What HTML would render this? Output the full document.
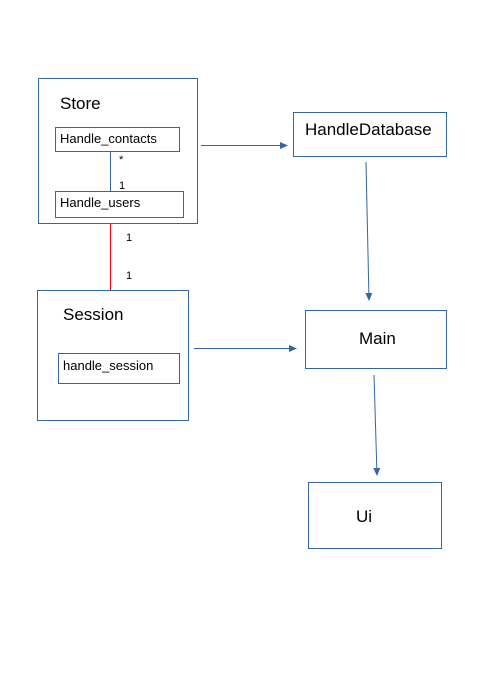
<!DOCTYPE html>
<html><head><style>
body{margin:0;background:#fff;}
svg text{font-family:"Liberation Sans",sans-serif;fill:#000;}
</style></head><body>
<svg width="480" height="679" xmlns="http://www.w3.org/2000/svg">
<defs><marker id="a" markerWidth="8" markerHeight="8" refX="7" refY="4" orient="auto" markerUnits="userSpaceOnUse"><path d="M0,0.5 L8,4 L0,7.5 z" fill="#3465a4"/></marker></defs>
<g fill="none" stroke="#3465a4" stroke-width="1">
<rect x="38.5" y="78.5" width="159" height="145"/>
<rect x="55.5" y="127.5" width="124" height="24"/>
<rect x="55.5" y="191.5" width="128" height="26"/>
<rect x="37.5" y="290.5" width="151" height="130"/>
<rect x="58.5" y="353.5" width="121" height="30"/>
<rect x="293.5" y="112.5" width="153" height="44"/>
<rect x="305.5" y="310.5" width="141" height="58"/>
<rect x="308.5" y="482.5" width="133" height="66"/>
<line x1="110.5" y1="151" x2="110.5" y2="191"/>
<line x1="201" y1="145.5" x2="287" y2="145.5" marker-end="url(#a)"/>
<line x1="366" y1="162" x2="369" y2="300" marker-end="url(#a)"/>
<line x1="194" y1="348.5" x2="296" y2="348.5" marker-end="url(#a)"/>
<line x1="374" y1="375" x2="377" y2="475" marker-end="url(#a)"/>
</g>
<line x1="110.5" y1="224" x2="110.5" y2="290" stroke="#ff0000" stroke-width="1"/>
<text x="60" y="109" font-size="17">Store</text>
<text x="60" y="143" font-size="13">Handle_contacts</text>
<text x="60" y="207" font-size="13">Handle_users</text>
<text x="119" y="163" font-size="11">*</text>
<text x="119" y="189" font-size="11">1</text>
<text x="126" y="241" font-size="11">1</text>
<text x="126" y="279" font-size="11">1</text>
<text x="63" y="320" font-size="17">Session</text>
<text x="63" y="370" font-size="13">handle_session</text>
<text x="305" y="135" font-size="17">HandleDatabase</text>
<text x="359" y="344" font-size="17">Main</text>
<text x="356" y="522" font-size="17">Ui</text>
</svg>
</body></html>
